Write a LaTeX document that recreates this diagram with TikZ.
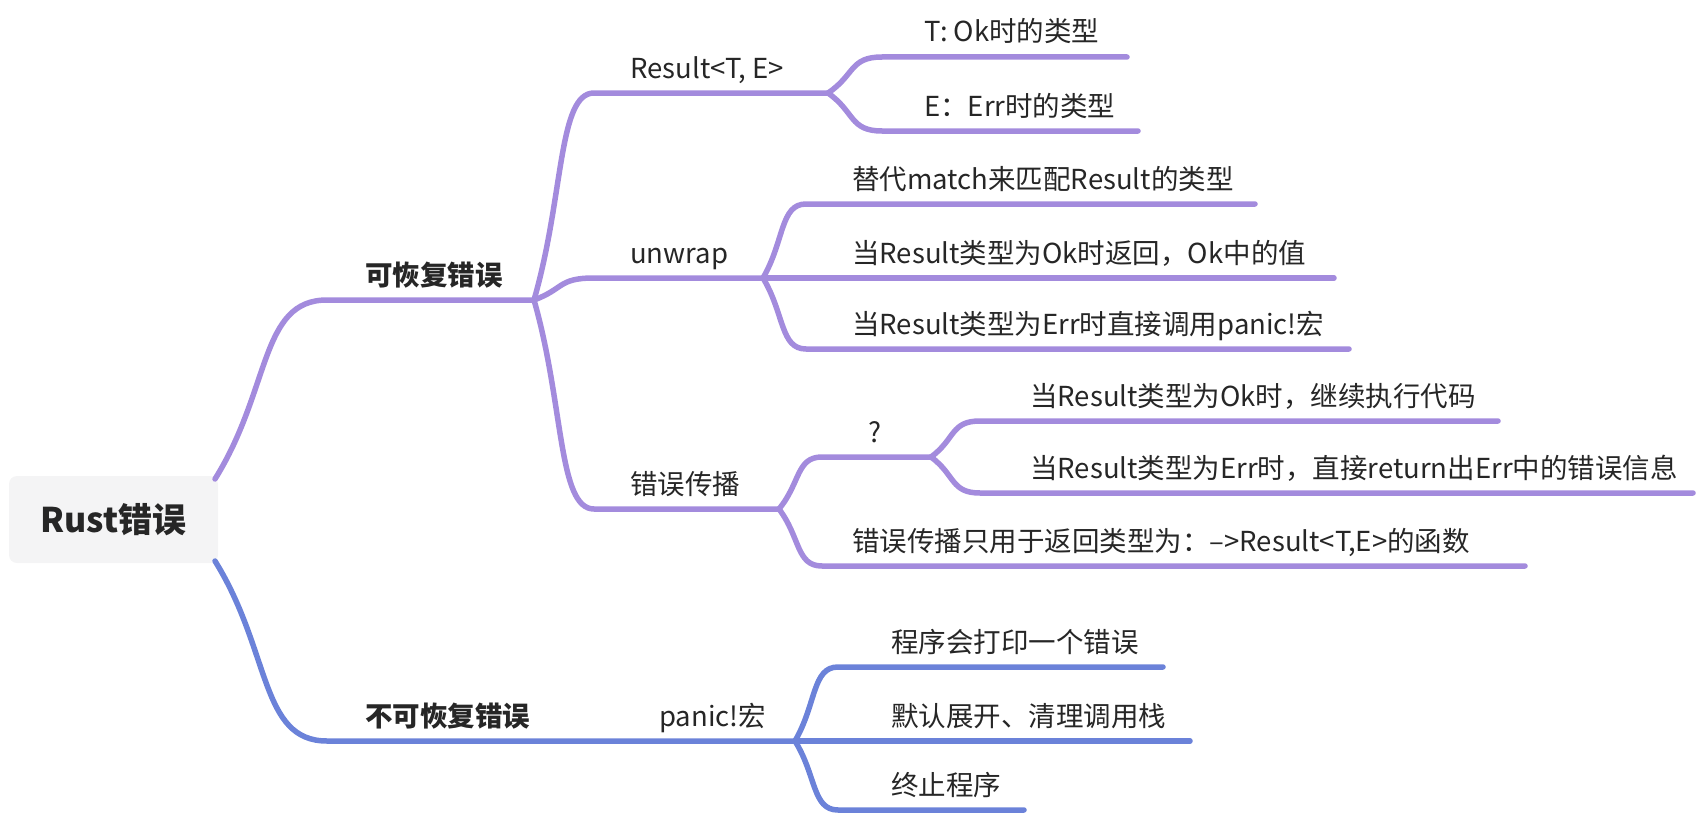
\documentclass[tikz,border=0pt]{standalone}
\usepackage{fontspec}
\setmainfont{Noto Sans CJK SC}
\usetikzlibrary{calc}

\definecolor{recov}{HTML}{A38BDD}
\definecolor{unrecov}{HTML}{6B82D9}
\definecolor{rootfill}{HTML}{F4F4F5}
\definecolor{ink}{HTML}{262626}

\tikzset{
  branch/.style={to path={.. controls ($(\tikztostart)!0.5!(\tikztotarget)$)
      and ($(\tikztostart|-\tikztotarget)!0.4!(\tikztotarget)$) .. (\tikztotarget)}},
  edge recov/.style={draw=recov, line width=5.5pt, line cap=round, line join=round},
  edge unrecov/.style={draw=unrecov, line width=5.5pt, line cap=round, line join=round},
  topic/.style={anchor=base west, inner sep=0pt, text=ink,
      font=\fontsize{27.5}{32}\selectfont},
  major/.style={topic, font=\fontsize{27.5}{32}\selectfont\bfseries},
  root/.style={fill=rootfill, rounded corners=8pt, minimum width=209pt,
      minimum height=87pt, text=ink, font=\fontsize{34}{40}\selectfont\bfseries}
}

\begin{document}
\begin{tikzpicture}[x=1pt, y=-1pt]
    \useasboundingbox (0,0) rectangle (1708,816);
    % place nodes
    \node [root] (rust) at (113.5,519.5) {Rust错误};
    \coordinate (rust-n) at (215,479);
    \coordinate (rust-s) at (215,561);
    % recoverable
    \coordinate (rec-s) at (327,300);  \coordinate (rec-e) at (534,300);
    \node [major] (rec) at (365,285) {可恢复错误};
    \coordinate (res-s) at (594,93);   \coordinate (res-e) at (828,93);
    \node [topic] (res) at (630,78) {Result<T, E>};
    \coordinate (tok-s) at (882,57);   \coordinate (tok-e) at (1127,57);
    \node [topic] (tok) at (924,42) {T: Ok时的类型};
    \coordinate (terr-s) at (882,131); \coordinate (terr-e) at (1138,131);
    \node [topic] (terr) at (924,116) {E：Err时的类型};
    \coordinate (unw-s) at (594,278);  \coordinate (unw-e) at (763,278);
    \node [topic] (unw) at (630,263) {unwrap};
    \coordinate (alt-s) at (806,204);  \coordinate (alt-e) at (1255,204);
    \node [topic] (alt) at (852,189) {替代match来匹配Result的类型};
    \coordinate (uok-s) at (806,278);  \coordinate (uok-e) at (1334,278);
    \node [topic] (uok) at (852,263) {当Result类型为Ok时返回，Ok中的值};
    \coordinate (uerr-s) at (806,349); \coordinate (uerr-e) at (1349,349);
    \node [topic] (uerr) at (852,334) {当Result类型为Err时直接调用panic!宏};
    \coordinate (prop-s) at (594,509); \coordinate (prop-e) at (779,509);
    \node [topic] (prop) at (630,494) {错误传播};
    \coordinate (q-s) at (822,457);    \coordinate (q-e) at (931,457);
    \node [topic] (q) at (868,442) {?};
    \coordinate (qok-s) at (980,421);  \coordinate (qok-e) at (1498,421);
    \node [topic] (qok) at (1030,406) {当Result类型为Ok时，继续执行代码};
    \coordinate (qerr-s) at (980,493); \coordinate (qerr-e) at (1693,493);
    \node [topic] (qerr) at (1030,478) {当Result类型为Err时，直接return出Err中的错误信息};
    \coordinate (only-s) at (822,566); \coordinate (only-e) at (1525,566);
    \node [topic] (only) at (852,551) {错误传播只用于返回类型为：–>Result<T,E>的函数};
    % unrecoverable
    \coordinate (unr-s) at (327,741);  \coordinate (unr-e) at (545,741);
    \node [major] (unr) at (365,726) {不可恢复错误};
    \coordinate (pan-e) at (795,741);
    \node [topic] (pan) at (659,726) {panic!宏};
    \coordinate (prt-s) at (838,667);  \coordinate (prt-e) at (1163,667);
    \node [topic] (prt) at (891,652) {程序会打印一个错误};
    \coordinate (unwd-s) at (838,741); \coordinate (unwd-e) at (1190,741);
    \node [topic] (unwd) at (891,726) {默认展开、清理调用栈};
    \coordinate (abrt-s) at (838,810); \coordinate (abrt-e) at (1024,810);
    \node [topic] (abrt) at (891,795) {终止程序};
    % draw edges
    \draw [edge recov] (rust-n) to[branch] (rec-s) -- (rec-e);
    \draw [edge recov] (rec-e) to[branch] (res-s) -- (res-e);
    \draw [edge recov] (res-e) to[branch] (tok-s) -- (tok-e);
    \draw [edge recov] (res-e) to[branch] (terr-s) -- (terr-e);
    \draw [edge recov] (rec-e) to[branch] (unw-s) -- (unw-e);
    \draw [edge recov] (unw-e) to[branch] (alt-s) -- (alt-e);
    \draw [edge recov] (unw-e) -- (uok-s) -- (uok-e);
    \draw [edge recov] (unw-e) to[branch] (uerr-s) -- (uerr-e);
    \draw [edge recov] (rec-e) to[branch] (prop-s) -- (prop-e);
    \draw [edge recov] (prop-e) to[branch] (q-s) -- (q-e);
    \draw [edge recov] (q-e) to[branch] (qok-s) -- (qok-e);
    \draw [edge recov] (q-e) to[branch] (qerr-s) -- (qerr-e);
    \draw [edge recov] (prop-e) to[branch] (only-s) -- (only-e);
    \draw [edge unrecov] (rust-s) to[branch] (unr-s) -- (unr-e) -- (pan-e);
    \draw [edge unrecov] (pan-e) to[branch] (prt-s) -- (prt-e);
    \draw [edge unrecov] (pan-e) -- (unwd-s) -- (unwd-e);
    \draw [edge unrecov] (pan-e) to[branch] (abrt-s) -- (abrt-e);
\end{tikzpicture}
\end{document}
